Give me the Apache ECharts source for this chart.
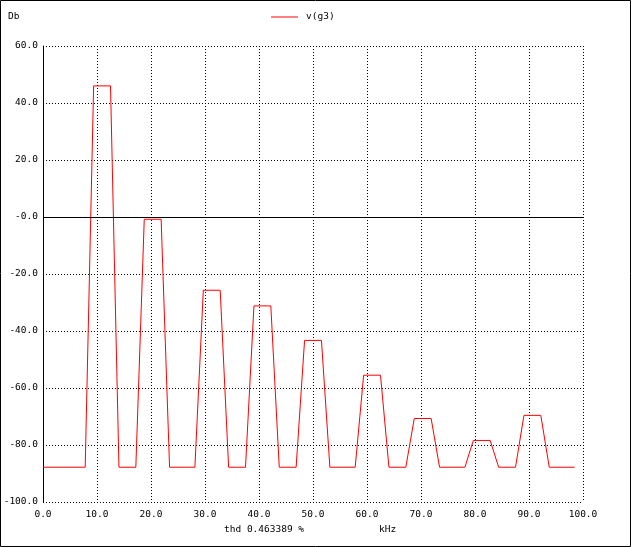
<!DOCTYPE html>
<html>
<head>
<meta charset="utf-8">
<script src="https://cdn.jsdelivr.net/npm/echarts@6/dist/echarts.min.js"></script>
<style>
html,body{margin:0;padding:0;background:#fff;}
#chart{width:631px;height:547px;}
</style>
</head>
<body>
<div id="chart"></div>
<script>
// Vertices of the v(g3) spectrum trace (frequency in kHz, level in Db)
var freqKHz = [0, 7.8125, 9.375, 12.5, 14.0625, 17.1875, 18.75, 21.875, 23.4375,
  28.125, 29.6875, 32.8125, 34.375, 37.5, 39.0625, 42.1875, 43.75,
  46.875, 48.4375, 51.5625, 53.125, 57.8125, 59.375, 62.5, 64.0625,
  67.1875, 68.75, 71.875, 73.4375, 78.125, 79.6875, 82.8125, 84.375,
  87.5, 89.0625, 92.1875, 93.75, 98.4375];
var levelDb = [-87.8, -87.8, 46.0, 46.0, -87.8, -87.8, -0.8, -0.8, -87.8,
  -87.8, -25.7, -25.7, -87.8, -87.8, -31.2, -31.2, -87.8,
  -87.8, -43.3, -43.3, -87.8, -87.8, -55.5, -55.5, -87.8,
  -87.8, -70.7, -70.7, -87.8, -87.8, -78.4, -78.4, -87.8,
  -87.8, -69.6, -69.6, -87.8, -87.8];
var yTickValues = [-100, -80, -60, -40, -20, 0, 20, 40, 60];
var yTickLabels = ['-100.0', '-80.0', '-60.0', '-40.0', '-20.0', '-0.0', '20.0', '40.0', '60.0'];
var xTickValues = [0, 10, 20, 30, 40, 50, 60, 70, 80, 90, 100];
var xTickLabels = ['0.0', '10.0', '20.0', '30.0', '40.0', '50.0', '60.0', '70.0', '80.0', '90.0', '100.0'];
var seriesName = 'v(g3)';
var yUnit = 'Db';
var xUnit = 'kHz';
var thdText = 'thd 0.463389 %';

var FONT = '"DejaVu Sans Mono", monospace';
var data = freqKHz.map(function (f, i) { return [f, levelDb[i]]; });
function lookup(vals, labels, v) {
  for (var i = 0; i < vals.length; i++) if (Math.abs(vals[i] - v) < 1e-9) return labels[i];
  return '';
}
var chart = echarts.init(document.getElementById('chart'), null, {renderer: 'canvas'});
chart.setOption({
  animation: false,
  backgroundColor: '#ffffff',
  grid: {left: 43, top: 46, width: 540, height: 456, containLabel: false},
  legend: {
    data: [seriesName], left: 271, top: 12, padding: 0, itemWidth: 27, itemHeight: 1, itemGap: 0,
    icon: 'rect',
    textStyle: {fontFamily: FONT, fontSize: 9.5, color: '#000', padding: [0, 0, 0, 3]}
  },
  xAxis: {
    type: 'value', min: 0, max: 100, interval: 10,
    axisLine: {show: false}, axisTick: {show: false},
    axisLabel: {margin: 8, fontFamily: FONT, fontSize: 9.5, color: '#000',
      formatter: function (v) { return lookup(xTickValues, xTickLabels, v); }},
    splitLine: {show: true, lineStyle: {color: '#000', width: 1, type: [1, 2]}}
  },
  yAxis: {
    type: 'value', min: -100, max: 60, interval: 20,
    axisLine: {show: true, lineStyle: {color: '#000', width: 1}}, axisTick: {show: false},
    axisLabel: {margin: 5, fontFamily: FONT, fontSize: 9.5, color: '#000',
      formatter: function (v) { return lookup(yTickValues, yTickLabels, v); }},
    splitLine: {show: true, lineStyle: {color: '#000', width: 1, type: [1, 2]}}
  },
  series: [{
    name: seriesName, type: 'line', data: data, symbol: 'none',
    lineStyle: {color: '#ff0000', width: 1}, itemStyle: {color: '#ff0000'},
    markLine: {
      silent: true, symbol: 'none', label: {show: false},
      lineStyle: {color: '#000', width: 1, type: 'solid'},
      data: [{yAxis: 0}]
    }
  }],
  graphic: [
    {type: 'rect', shape: {x: 0.5, y: 0.5, width: 630, height: 546},
      style: {fill: null, stroke: '#000', lineWidth: 1}, silent: true},
    {type: 'text', left: 8, top: 12, style: {text: yUnit, font: '9.5px ' + FONT, fill: '#000'}},
    {type: 'text', left: 224, top: 525, style: {text: thdText, font: '9.5px ' + FONT, fill: '#000'}},
    {type: 'text', left: 379, top: 525, style: {text: xUnit, font: '9.5px ' + FONT, fill: '#000'}}
  ]
});
</script>
</body>
</html>
